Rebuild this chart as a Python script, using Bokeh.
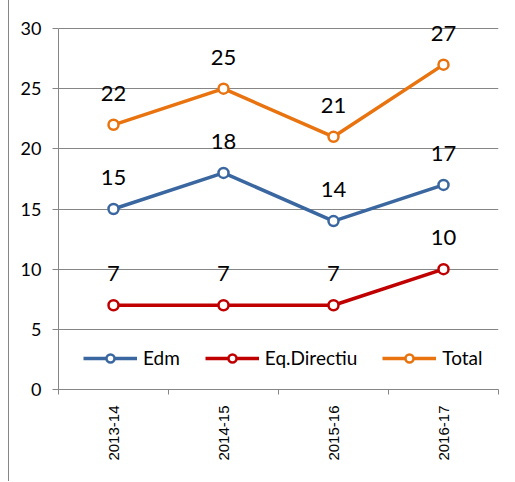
import math
from bokeh.plotting import figure
from bokeh.models import ColumnDataSource, FixedTicker, LabelSet, Range1d
from bokeh.core.properties import value
from bokeh.embed import file_html
from bokeh.resources import INLINE

categories = ["2013-14", "2014-15", "2015-16", "2016-17"]
edm = [15, 18, 14, 17]
eq_directiu = [7, 7, 7, 10]
total = [22, 25, 21, 27]
series_names = ["Edm", "Eq.Directiu", "Total"]
series_values = [edm, eq_directiu, total]
colors = ["#3A67A0", "#C00000", "#E8730F"]
y_ticks = [0, 5, 10, 15, 20, 25, 30]

GRID = "#868686"
NUM_FONT = "Lato"

n = len(categories)
centers = [i + 0.5 for i in range(n)]
bounds = [i for i in range(n + 1)]

p = figure(width=505, height=481, x_range=Range1d(0, n), y_range=Range1d(0, 31),
           output_backend="svg", toolbar_location=None,
           min_border_left=49, min_border_right=16, min_border_top=16, min_border_bottom=92)
p.styles = {"margin-left": "8px", "border-left": "1px solid #868686"}
p.outline_line_color = None
p.background_fill_color = "white"
p.border_fill_color = "white"

# grid
p.xgrid.grid_line_color = None
p.ygrid.ticker = FixedTicker(ticks=y_ticks)
p.ygrid.grid_line_color = GRID
p.ygrid.grid_line_width = 1

# y axis
ya = p.yaxis[0]
ya.ticker = FixedTicker(ticks=y_ticks)
ya.bounds = (0, 30)
ya.axis_line_color = GRID
ya.major_tick_line_color = GRID
ya.major_tick_out = 6
ya.major_tick_in = 0
ya.minor_tick_line_color = None
ya.major_label_text_font = NUM_FONT
ya.major_label_text_font_size = "18px"
ya.major_label_text_color = "black"
ya.major_label_standoff = 11

# x axis
xa = p.xaxis[0]
xa.ticker = FixedTicker(ticks=centers, minor_ticks=bounds)
xa.major_label_overrides = {c: lab for c, lab in zip(centers, categories)}
xa.axis_line_color = GRID
xa.major_tick_line_color = None
xa.major_tick_out = 0
xa.major_tick_in = 0
xa.minor_tick_line_color = GRID
xa.minor_tick_out = 5
xa.minor_tick_in = 0
xa.major_label_orientation = math.pi / 2
xa.major_label_text_font = "Liberation Sans"
xa.major_label_text_font_size = "15px"
xa.major_label_text_color = "black"
xa.major_label_standoff = 11

for name, vals, col in zip(series_names, series_values, colors):
    src = ColumnDataSource(dict(x=centers, y=vals, t=[str(v) for v in vals]))
    p.line("x", "y", source=src, line_color=col, line_width=3.5, legend_label=name)
    p.scatter("x", "y", source=src, marker="circle", size=10, line_color=col,
              line_width=2.5, fill_color="white", legend_label=name)
    labels = LabelSet(x="x", y="y", text="t", source=src, y_offset=24,
                      text_align="center", text_baseline="alphabetic",
                      text_font=value(NUM_FONT), text_font_size="22px", text_color="black")
    p.add_layout(labels)

lg = p.legend[0]
lg.orientation = "horizontal"
lg.location = (25, 20)
lg.padding = 0
lg.margin = 0
lg.spacing = 25
lg.glyph_width = 54
lg.glyph_height = 20
lg.label_standoff = 6
lg.label_text_font = NUM_FONT
lg.label_text_font_size = "19px"
lg.label_text_color = "black"
lg.border_line_color = None
lg.background_fill_alpha = 0

open("out.html", "w").write(file_html(p, INLINE))
